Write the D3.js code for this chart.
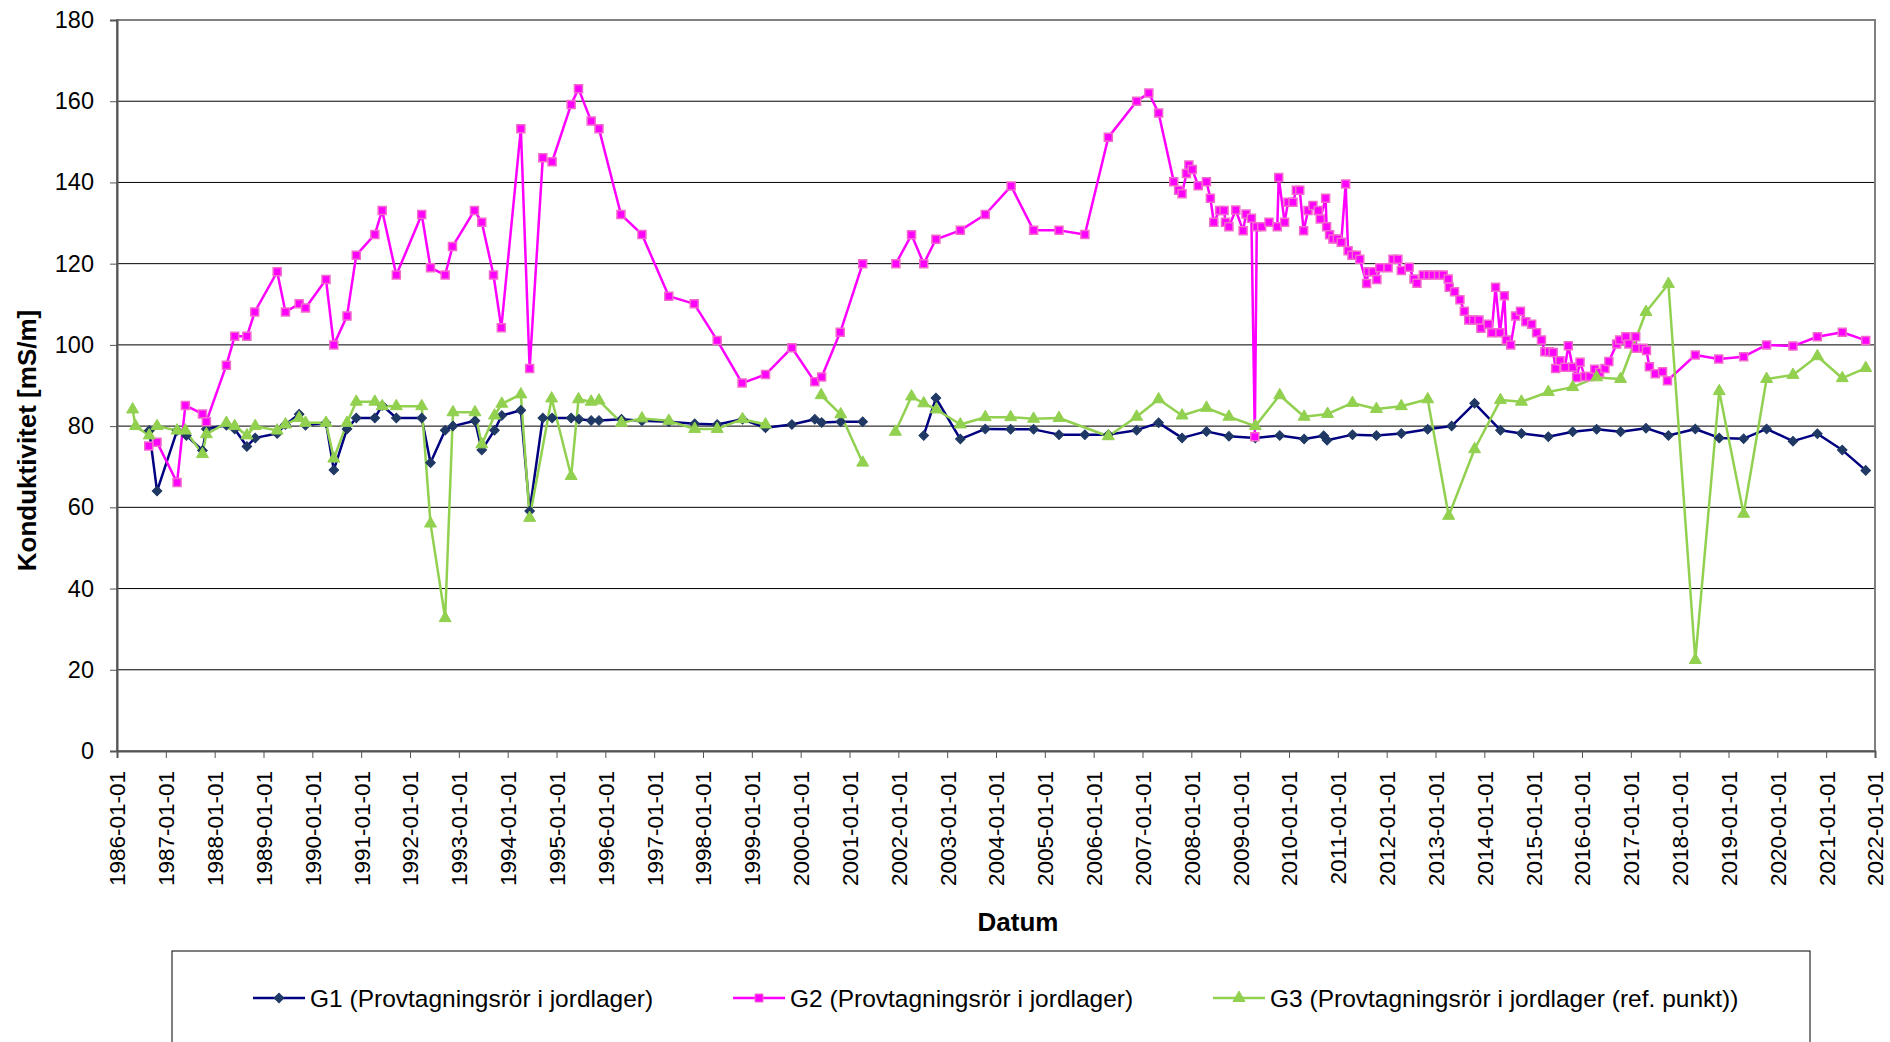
<!DOCTYPE html>
<html>
<head>
<meta charset="utf-8">
<script src="https://cdn.jsdelivr.net/npm/d3@7"></script>
<style>
  body { margin: 0; background: #fff; }
  svg { display: block; }
  text { font-family: Arial, "Liberation Sans", sans-serif; fill: #000; }
</style>
</head>
<body>
<div id="chart"></div>
<script>
// year (decimal) and value, null marks a break in the line
var g1Data = [
  [1986.66,78.9],[1986.82,64],[1987.23,78.9],[1987.42,77.7],[1987.75,74],[1987.83,79.3],
  [1988.24,80.2],[1988.41,79.3],[1988.66,75],[1988.83,77.1],[1989.28,78.2],[1989.45,80.4],
  [1989.73,82.9],[1989.86,80.2],[1990.28,80.8],[1990.44,69.2],[1990.71,79.3],[1990.90,82],
  [1991.28,82],[1991.43,85.1],[1991.72,82],[1992.24,82],[1992.42,71],[1992.72,79],
  [1992.88,80],[1993.33,81.3],[1993.47,74.1],[1993.73,79],[1993.88,82.6],[1994.27,83.9],
  [1994.45,59.1],[1994.72,82],[1994.91,82],[1995.30,82],[1995.46,81.7],[1995.71,81.4],
  [1995.87,81.4],[1996.33,81.7],[1996.75,81.3],[1997.30,81.1],[1997.83,80.6],[1998.29,80.4],
  [1998.81,81.7],[1999.28,79.6],[1999.82,80.4],[2000.29,81.7],[2000.43,80.9],[2000.82,81.1],
  [2001.27,81.1],[2001.6,null],
  [2002.52,77.7],[2002.77,86.9],[2003.27,76.8],[2003.78,79.3],[2004.30,79.2],[2004.77,79.2],
  [2005.29,77.9],[2005.82,77.9],[2006.30,77.9],[2006.88,79],[2007.33,80.8],[2007.81,77.1],
  [2008.31,78.7],[2008.77,77.5],[2009.31,77.1],[2009.81,77.7],[2010.31,76.8],[2010.71,77.6],
  [2010.78,76.5],[2011.30,77.9],[2011.79,77.7],[2012.30,78.2],[2012.84,79.2],[2013.33,80],
  [2013.80,85.6],[2014.33,79],[2014.76,78.2],[2015.31,77.4],[2015.81,78.6],[2016.30,79.2],
  [2016.79,78.6],[2017.31,79.5],[2017.77,77.7],[2018.32,79.3],[2018.81,77.1],[2019.31,76.9],
  [2019.78,79.3],[2020.32,76.3],[2020.82,78.1],[2021.33,74.1],[2021.81,69.1]
];

var g2Data = [
  [1986.65,75.1],[1986.82,76],[1987.23,66.1],[1987.40,85.1],[1987.75,83],[1987.83,81.1],
  [1988.24,95],[1988.41,102.1],[1988.66,102.1],[1988.82,108.1],[1989.28,118],[1989.45,108.1],
  [1989.73,110.1],[1989.86,109.1],[1990.28,116.1],[1990.44,100],[1990.71,107.1],[1990.90,122.1],
  [1991.28,127.2],[1991.43,133.1],[1991.72,117.2],[1992.24,132.1],[1992.42,119],[1992.72,117.2],
  [1992.87,124.2],[1993.32,133.1],[1993.47,130.2],[1993.71,117.2],[1993.87,104.2],[1994.27,153.2],
  [1994.45,94.2],[1994.72,146.1],[1994.91,145.1],[1995.30,159.2],[1995.45,163.1],[1995.71,155.1],
  [1995.87,153.2],[1996.32,132.1],[1996.75,127.2],[1997.30,112],[1997.82,110.1],[1998.29,101.1],
  [1998.80,90.6],[1999.28,92.7],[1999.82,99.3],[2000.29,90.9],[2000.43,92.1],[2000.81,103.1],
  [2001.27,120],[2001.6,null],
  [2001.95,120],[2002.27,127.1],[2002.52,120],[2002.77,126],[2003.27,128.2],[2003.78,132.1],
  [2004.31,139.1],[2004.77,128.2],[2005.29,128.2],[2005.82,127.2],[2006.30,151.1],[2006.88,160],
  [2007.13,162],[2007.33,157.1],[2007.64,140.2],[2007.74,138.1],[2007.81,137.2],[2007.90,142.2],
  [2007.95,144.3],[2008.02,143.2],[2008.14,139.2],[2008.31,140.2],[2008.39,136.1],[2008.46,130.2],
  [2008.58,133.1],[2008.67,133.1],[2008.70,130.2],[2008.77,129.1],[2008.91,133.2],[2009.06,128.1],
  [2009.12,132.2],[2009.23,131.2],[2009.30,77.4],[2009.34,129.1],[2009.44,129.1],[2009.59,130.2],
  [2009.76,129.1],[2009.79,141.2],[2009.91,130.2],[2009.98,135.1],[2010.08,135.1],[2010.15,138.1],
  [2010.22,138.1],[2010.30,128.1],[2010.39,133.1],[2010.49,134.3],[2010.60,133.1],[2010.64,131],
  [2010.75,136.1],[2010.77,129.1],[2010.83,127.1],[2010.90,126.1],[2010.99,126.1],[2011.07,125.3],
  [2011.16,139.6],[2011.21,123.2],[2011.29,122.1],[2011.38,122.1],[2011.45,121.1],[2011.59,115.1],
  [2011.62,118],[2011.72,118],[2011.80,116.1],[2011.86,119],[2012.03,119],[2012.13,121.1],
  [2012.23,121.1],[2012.30,118.3],[2012.46,119.1],[2012.56,116.2],[2012.62,115.2],[2012.75,117.2],
  [2012.85,117.2],[2012.95,117.2],[2013.06,117.2],[2013.16,117.2],[2013.26,116.2],[2013.28,114.2],
  [2013.39,113.1],[2013.50,111.1],[2013.59,108.3],[2013.68,106.1],[2013.78,106.1],[2013.89,106.1],
  [2013.93,104.1],[2014.08,105.1],[2014.15,103],[2014.23,114.2],[2014.32,103],[2014.41,112.1],
  [2014.45,101.2],[2014.54,100],[2014.64,107.1],[2014.74,108.3],[2014.85,105.7],[2014.97,105.1],
  [2015.07,103],[2015.17,101.2],[2015.24,98.3],[2015.33,98.3],[2015.41,98.1],[2015.46,94.2],
  [2015.55,96.1],[2015.65,94.5],[2015.72,99.8],[2015.81,94.5],[2015.89,92],[2015.96,95.7],
  [2016.06,92.2],[2016.16,92.2],[2016.26,94],[2016.36,93.2],[2016.47,94.2],[2016.55,95.9],
  [2016.71,100.2],[2016.77,101.2],[2016.90,102],[2016.96,100.2],[2017.10,102],[2017.11,99.2],
  [2017.25,99.2],[2017.32,98.6],[2017.38,94.6],[2017.50,92.9],[2017.65,93.4],[2017.75,91.2],
  [2018.32,97.5],[2018.80,96.5],[2019.31,97.1],[2019.78,100],[2020.32,99.7],[2020.82,102],
  [2021.33,103.1],[2021.81,101.1]
];

var g3Data = [
  [1986.32,84.1],[1986.38,80],[1986.66,77.7],[1986.82,80],[1987.23,78.9],[1987.40,78.9],
  [1987.75,73.1],[1987.83,78],[1988.24,80.8],[1988.41,80],[1988.66,77.7],[1988.83,80],
  [1989.28,78.9],[1989.45,80.4],[1989.73,82],[1989.86,80.8],[1990.28,80.8],[1990.44,72],
  [1990.71,80.8],[1990.90,86],[1991.28,86],[1991.43,84.9],[1991.72,84.9],[1992.24,84.9],
  [1992.42,56],[1992.72,32.7],[1992.88,83.4],[1993.33,83.4],[1993.47,75.5],[1993.73,82.6],
  [1993.88,85.5],[1994.27,87.8],[1994.45,57.4],[1994.90,86.8],[1995.30,67.7],[1995.45,86.6],
  [1995.71,86],[1995.87,86.3],[1996.33,80.8],[1996.75,81.9],[1997.30,81.3],[1997.83,79.3],
  [1998.29,79.3],[1998.81,81.7],[1999.28,80.4],[1999.82,null],
  [2000.42,87.6],[2000.82,82.9],[2001.27,71],[2001.6,null],
  [2001.94,78.6],[2002.27,87.3],[2002.52,85.6],[2002.78,84.1],[2003.27,80.4],[2003.78,82.2],
  [2004.30,82.2],[2004.77,81.8],[2005.29,82.0],[2006.30,77.5],[2006.88,82.3],[2007.33,86.6],
  [2007.81,82.6],[2008.31,84.5],[2008.77,82.3],[2009.31,80],[2009.81,87.6],[2010.31,82.3],
  [2010.79,83],[2011.30,85.7],[2011.79,84.2],[2012.30,84.9],[2012.84,86.6],[2013.27,57.9],
  [2013.80,74.3],[2014.33,86.4],[2014.76,86],[2015.31,88.4],[2015.81,89.6],[2016.30,92],
  [2016.79,91.6],[2017.31,108.1],[2017.77,115],[2018.32,22.4],[2018.81,88.6],[2019.31,58.4],
  [2019.78,91.6],[2020.32,92.6],[2020.82,97.2],[2021.33,91.8],[2021.81,94.3]
];

var seriesNames = [
  "G1 (Provtagningsrör i jordlager)",
  "G2 (Provtagningsrör i jordlager)",
  "G3 (Provtagningsrör i jordlager (ref. punkt))"
];
var yTicks = [0, 20, 40, 60, 80, 100, 120, 140, 160, 180];
var xYears = d3.range(1986, 2023);

// set the dimensions and margins of the graph
var margin = {top: 20, right: 15, bottom: 291, left: 117},
    width = 1890 - margin.left - margin.right,
    height = 1042 - margin.top - margin.bottom;

var svgRoot = d3.select("#chart")
  .append("svg")
    .attr("width", 1890)
    .attr("height", 1042);

var svg = svgRoot.append("g")
    .attr("transform", "translate(" + margin.left + "," + margin.top + ")");

var x = d3.scaleLinear().domain([1986, 2022]).range([0, width]);
var y = d3.scaleLinear().domain([0, 180]).range([height, 0]);

// gridlines
svg.append("g")
  .selectAll("line")
  .data(yTicks.filter(function(d) { return d > 0 && d < 180; }))
  .enter().append("line")
    .attr("x1", 0).attr("x2", width)
    .attr("y1", function(d) { return y(d); })
    .attr("y2", function(d) { return y(d); })
    .attr("stroke", "#000")
    .attr("stroke-width", 1);

// plot frame
svg.append("rect")
  .attr("x", 0).attr("y", 0)
  .attr("width", width).attr("height", height)
  .attr("fill", "none")
  .attr("stroke", "#808080")
  .attr("stroke-width", 2);

// Y axis
var yAxis = svg.append("g")
  .call(d3.axisLeft(y).tickValues(yTicks).tickSize(7).tickPadding(16));
yAxis.select(".domain").attr("stroke", "#555").attr("stroke-width", 2);
yAxis.selectAll(".tick line").attr("stroke", "#555");
yAxis.selectAll("text").style("font-size", "23.5px");

// X axis
var xAxis = svg.append("g")
  .attr("transform", "translate(0," + height + ")")
  .call(d3.axisBottom(x).tickValues(xYears).tickSize(7)
    .tickFormat(function(d) { return d + "-01-01"; }));
xAxis.select(".domain").attr("stroke", "#555").attr("stroke-width", 2);
xAxis.selectAll(".tick line").attr("stroke", "#555");
xAxis.selectAll("text")
  .style("font-size", "22.5px")
  .attr("text-anchor", "end")
  .attr("transform", "rotate(-90)")
  .attr("x", -20)
  .attr("y", 0)
  .attr("dy", "0.35em");

// axis titles
svg.append("text")
  .attr("text-anchor", "middle")
  .attr("x", width / 2 + 22)
  .attr("y", height + 180)
  .style("font-size", "26px")
  .style("font-weight", "bold")
  .text("Datum");

svg.append("text")
  .attr("text-anchor", "middle")
  .attr("transform", "translate(" + (-81) + "," + (height / 2 + 55) + ") rotate(-90)")
  .style("font-size", "26px")
  .style("font-weight", "bold")
  .text("Konduktivitet [mS/m]");

// series styles
var series = [
  {name: seriesNames[0], data: g1Data, line: "#000080", fill: "#1F3864", stroke: "#1F3864", shape: "diamond"},
  {name: seriesNames[1], data: g2Data, line: "#FF00FF", fill: "#FF00FF", stroke: "#F36ACD", shape: "square"},
  {name: seriesNames[2], data: g3Data, line: "#92D050", fill: "#92D050", stroke: "#92D050", shape: "triangle"}
];

function markerPath(shape) {
  if (shape === "diamond") return d3.symbol().type(d3.symbolSquare).size(46)();
  if (shape === "square") return d3.symbol().type(d3.symbolSquare).size(64)();
  return d3.symbol().type(d3.symbolTriangle).size(62)();
}

var line = d3.line()
  .defined(function(d) { return d[1] != null; })
  .x(function(d) { return x(d[0]); })
  .y(function(d) { return y(d[1]); });

series.forEach(function(s) {
  svg.append("path")
    .datum(s.data)
    .attr("fill", "none")
    .attr("stroke", s.line)
    .attr("stroke-width", 2.5)
    .attr("stroke-linejoin", "round")
    .attr("d", line);
});

series.forEach(function(s) {
  svg.append("g")
    .selectAll("path")
    .data(s.data.filter(function(d) { return d[1] != null; }))
    .enter().append("path")
      .attr("d", markerPath(s.shape))
      .attr("transform", function(d) {
        return "translate(" + x(d[0]) + "," + y(d[1]) + ")" + (s.shape === "diamond" ? " rotate(45)" : "");
      })
      .attr("fill", s.fill)
      .attr("stroke", s.stroke)
      .attr("stroke-width", s.shape === "square" ? 1.5 : 1);
});

// legend
var legend = svgRoot.append("g");
legend.append("rect")
  .attr("x", 172).attr("y", 951)
  .attr("width", 1638).attr("height", 120)
  .attr("fill", "#fff")
  .attr("stroke", "#000")
  .attr("stroke-width", 1);

var legendX = [253, 733, 1213];
series.forEach(function(s, i) {
  var g = legend.append("g").attr("transform", "translate(" + legendX[i] + ",998)");
  g.append("line")
    .attr("x1", 0).attr("x2", 52)
    .attr("y1", 0).attr("y2", 0)
    .attr("stroke", s.line)
    .attr("stroke-width", 2.5);
  g.append("path")
    .attr("d", markerPath(s.shape))
    .attr("transform", "translate(26,0)" + (s.shape === "diamond" ? " rotate(45)" : ""))
    .attr("fill", s.fill)
    .attr("stroke", s.stroke);
  g.append("text")
    .attr("x", 57)
    .attr("y", 0)
    .attr("dy", "0.35em")
    .style("font-size", "24.5px")
    .text(s.name);
});
</script>
</body>
</html>
